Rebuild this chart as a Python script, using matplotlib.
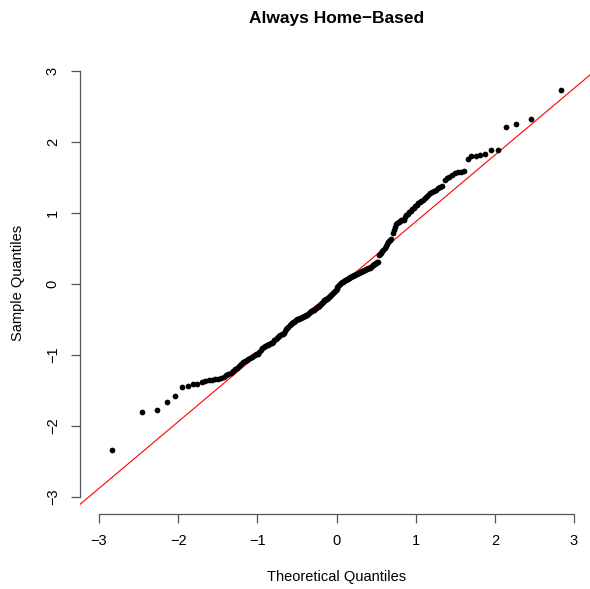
import numpy as np
import matplotlib.pyplot as plt
from statistics import NormalDist

plt.rcParams['font.family'] = ['Liberation Sans', 'DejaVu Sans']

title = 'Always Home\u2212Based'
xlab = 'Theoretical Quantiles'
ylab = 'Sample Quantiles'
ticks = [-3, -2, -1, 0, 1, 2, 3]

# sorted residuals, lower half
sample_lo = [-2.342, -1.803, -1.779, -1.656, -1.582, -1.451, -1.437, -1.413, -1.403, -1.385,
             -1.368, -1.358, -1.350, -1.342, -1.333, -1.322, -1.308, -1.285, -1.262, -1.248,
             -1.228, -1.200, -1.180, -1.160, -1.125, -1.100, -1.090, -1.075, -1.062, -1.045,
             -1.030, -1.018, -1.005, -0.990, -0.980, -0.955, -0.925, -0.900, -0.885, -0.875,
             -0.865, -0.855, -0.845, -0.835, -0.825, -0.815, -0.795, -0.775, -0.760, -0.746,
             -0.735, -0.720, -0.708, -0.699, -0.685, -0.660, -0.640, -0.620, -0.600, -0.575,
             -0.560, -0.548, -0.538, -0.530, -0.520, -0.510, -0.500, -0.492, -0.487, -0.482,
             -0.476, -0.470, -0.463, -0.455, -0.447, -0.440, -0.430, -0.418, -0.405, -0.395,
             -0.385, -0.377, -0.370, -0.360, -0.350, -0.340, -0.330, -0.320, -0.310, -0.300,
             -0.285, -0.270, -0.250, -0.238, -0.230, -0.222, -0.213, -0.205, -0.195, -0.185,
             -0.175, -0.160, -0.145, -0.130, -0.115, -0.100, -0.085, -0.065]
# upper half
sample_hi = [-0.045, -0.030, -0.015, 0.000, 0.012, 0.024, 0.034, 0.043, 0.052, 0.060,
             0.067, 0.074, 0.081, 0.088, 0.094, 0.100, 0.106, 0.113, 0.120, 0.128,
             0.136, 0.145, 0.153, 0.162, 0.170, 0.176, 0.182, 0.190, 0.197, 0.203,
             0.208, 0.214, 0.220, 0.226, 0.232, 0.240, 0.250, 0.262, 0.275, 0.287,
             0.298, 0.305, 0.310, 0.404, 0.420, 0.440, 0.460, 0.485, 0.510, 0.535,
             0.560, 0.585, 0.605, 0.625, 0.640, 0.720, 0.756, 0.800, 0.845, 0.865,
             0.880, 0.890, 0.897, 0.902, 0.906, 0.940, 0.970, 0.990, 1.010, 1.030,
             1.050, 1.075, 1.095, 1.110, 1.135, 1.155, 1.170, 1.190, 1.205, 1.225,
             1.250, 1.275, 1.300, 1.315, 1.330, 1.350, 1.366, 1.380, 1.466, 1.487,
             1.507, 1.540, 1.560, 1.573, 1.580, 1.590, 1.766, 1.799, 1.808, 1.822,
             1.836, 1.883, 1.883, 2.211, 2.254, 2.320, 2.738]

# qqline through the quartiles
line_icpt = -0.062
line_slope = 0.939

y = np.array(sample_lo + sample_hi)
n = len(y)
pp = (np.arange(1, n + 1) - 0.5) / n
x = np.array([NormalDist().inv_cdf(p) for p in pp])

fig = plt.figure(figsize=(5.9, 5.89), dpi=100)
ax = fig.add_axes([80 / 590, 75 / 589, 513 / 590, 460 / 589])
ax.set_xlim(-3.24, 3.24)
ax.set_ylim(-3.24, 3.24)

ax.scatter(x, y, s=17, color='black', linewidths=0, zorder=3)
xx = np.array([-3.5, 3.5])
ax.plot(xx, line_icpt + line_slope * xx, color='red', lw=0.8, zorder=2)

for s in ['top', 'right']:
    ax.spines[s].set_visible(False)
for s in ['left', 'bottom']:
    ax.spines[s].set_bounds(-3, 3)
    ax.spines[s].set_color('#555555')
    ax.spines[s].set_linewidth(0.9)
ax.set_xticks(ticks)
ax.set_yticks(ticks)
ax.set_xticklabels([str(t).replace('-', '\u2212') for t in ticks])
ax.set_yticklabels([str(t).replace('-', '\u2212') for t in ticks],
                   rotation=90, va='center')
ax.tick_params(length=6.5, width=0.9, color='#555555', labelsize=10.5, pad=8)

fig.text(336.5 / 590, 1 - 577 / 589, xlab, ha='center', va='center', fontsize=10.5)
fig.text(18 / 590, 1 - 283 / 589, ylab, ha='center', va='center', rotation=90, fontsize=10.5)
fig.text(336.5 / 590, 1 - 18 / 589, title, ha='center', va='center',
         fontsize=12.5, fontweight='bold')

fig.savefig('out.png', dpi=100)
